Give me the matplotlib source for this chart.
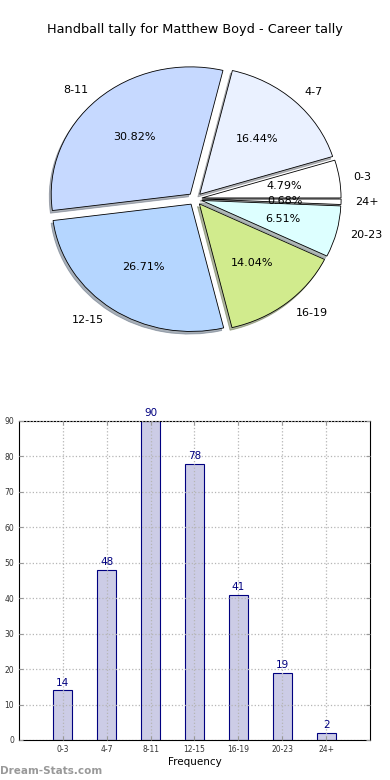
import matplotlib

matplotlib.use("Agg")
import matplotlib.pyplot as plt
import numpy as np

# --- Data ---------------------------------------------------------------------
categories = ["0-3", "4-7", "8-11", "12-15", "16-19", "20-23", "24+"]
counts = [14, 48, 90, 78, 41, 19, 2]
pie_colors = ["#ffffff", "#eaf1ff", "#c6d9ff", "#b5d6ff", "#d1eb8d", "#ddffff", "#ffffff"]
title = "Handball tally for Matthew Boyd - Career tally"

fig = plt.figure(figsize=(3.9, 7.8), dpi=100)

# --- Pie ----------------------------------------------------------------------
ax_pie = fig.add_axes([0.054, 0.541, 0.892, 0.408])
ax_pie.pie(
    counts,
    labels=categories,
    colors=pie_colors,
    explode=[0.05] * len(counts),
    autopct="%.2f%%",
    shadow=dict(ox=-0.01, oy=-0.015, shade=0.55),
    startangle=0,
    wedgeprops=dict(edgecolor="black", linewidth=0.6),
    textprops=dict(fontsize=8),
)
ax_pie.set_aspect("auto")
ax_pie.set_xlim(-1.25, 1.25)
ax_pie.set_ylim(-1.25, 1.25)
fig.text(0.5, 1 - 30 / 780, title, ha="center", va="center", fontsize=9.3)

# --- Bars ---------------------------------------------------------------------
ax_bar = fig.add_axes([0.0487, 0.0513, 0.9, 0.409])
x = np.arange(len(categories))
bars = ax_bar.bar(x, counts, width=0.43, color="#ccccE6", edgecolor="navy", linewidth=0.8)
ax_bar.bar_label(bars, padding=2, color="navy", fontsize=7.5)
ax_bar.set_xlim(-1, len(categories))
ax_bar.set_ylim(0, 90)
ax_bar.set_yticks(range(0, 91, 10))
ax_bar.set_xticks(x)
ax_bar.set_xticklabels(categories)
ax_bar.tick_params(labelsize=5.5, direction="in", top=True, right=True,
                   length=3, color="#999999", labelcolor="#333333")
ax_bar.grid(True, linestyle=":", color="#b5b5b5", linewidth=0.9)
ax_bar.set_axisbelow(False)
ax_bar.set_xlabel("Frequency", fontsize=7.5, labelpad=2)

fig.text(0.0, 1 - 771 / 780, "Dream-Stats.com", ha="left", va="center",
         fontsize=7.5, color="#999999", fontweight="bold")

fig.savefig("out.png", dpi=100)
